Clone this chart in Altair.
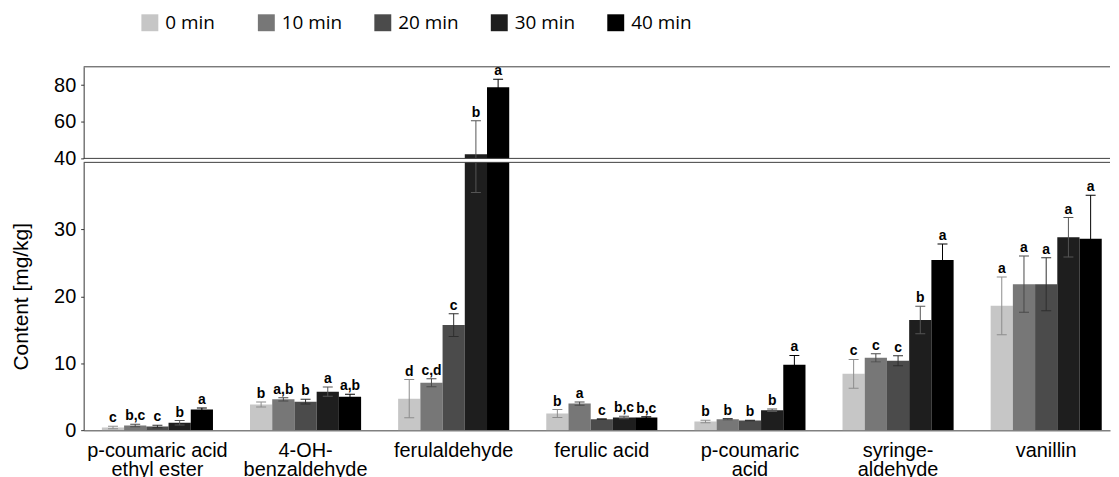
import altair as alt
import pandas as pd

compounds = ["p-coumaric acid\nethyl ester", "4-OH-\nbenzaldehyde", "ferulaldehyde",
             "ferulic acid", "p-coumaric\nacid", "syringe-\naldehyde", "vanillin"]
times = ["0 min", "10 min", "20 min", "30 min", "40 min"]

# mean content [mg/kg] per compound, in order of times
mean_pcae = [0.4, 0.7, 0.55, 1.1, 3.07]
mean_ohb = [3.82, 4.6, 4.26, 5.75, 5.0]
mean_fald = [4.7, 7.09, 15.7, 42.2, 78.8]
mean_fac = [2.48, 3.97, 1.64, 1.89, 1.89]
mean_pca = [1.29, 1.64, 1.44, 2.97, 9.76]
mean_syr = [8.42, 10.8, 10.36, 16.45, 25.4]
mean_van = [18.57, 21.8, 21.8, 28.8, 28.6]

# error bar extent above / below the mean
err_up_pcae = [0.2, 0.2, 0.2, 0.34, 0.25]
err_up_ohb = [0.37, 0.25, 0.35, 0.7, 0.37]
err_up_fald = [2.85, 0.6, 1.7, 18.3, 4.4]
err_up_fac = [0.6, 0.25, 0.05, 0.2, 0.1]
err_up_pca = [0.2, 0.1, 0.05, 0.2, 1.4]
err_up_syr = [2.15, 0.6, 0.75, 2.05, 2.4]
err_up_van = [4.3, 4.2, 3.95, 2.95, 6.5]

err_dn_pcae = [0.2, 0.2, 0.2, 0.34, 0.25]
err_dn_ohb = [0.37, 0.25, 0.35, 0.7, 0.37]
err_dn_fald = [2.85, 0.6, 1.7, 6.7, 4.4]
err_dn_fac = [0.6, 0.25, 0.05, 0.2, 0.1]
err_dn_pca = [0.2, 0.1, 0.05, 0.2, 1.4]
err_dn_syr = [2.15, 0.6, 0.75, 2.05, 2.4]
err_dn_van = [4.3, 4.2, 3.95, 2.95, 6.5]

let_pcae = ["c", "b,c", "c", "b", "a"]
let_ohb = ["b", "a,b", "b", "a", "a,b"]
let_fald = ["d", "c,d", "c", "b", "a"]
let_fac = ["b", "a", "c", "b,c", "b,c"]
let_pca = ["b", "b", "b", "b", "a"]
let_syr = ["c", "c", "c", "b", "a"]
let_van = ["a", "a", "a", "a", "a"]

means = [mean_pcae, mean_ohb, mean_fald, mean_fac, mean_pca, mean_syr, mean_van]
ups = [err_up_pcae, err_up_ohb, err_up_fald, err_up_fac, err_up_pca, err_up_syr, err_up_van]
dns = [err_dn_pcae, err_dn_ohb, err_dn_fald, err_dn_fac, err_dn_pca, err_dn_syr, err_dn_van]
lets = [let_pcae, let_ohb, let_fald, let_fac, let_pca, let_syr, let_van]

bar_colors = ["#c6c6c6", "#777777", "#4b4b4b", "#1e1e1e", "#000000"]
err_colors = ["#8c8c8c", "#4a4a4a", "#2e2e2e", "#555555", "#000000"]

rows = []
for ci, c in enumerate(compounds):
    for ti, t in enumerate(times):
        m = means[ci][ti]
        rows.append({"compound": c, "time": t, "mean": m,
                     "lo": m - dns[ci][ti], "hi": m + ups[ci][ti],
                     "letter": lets[ci][ti], "ecolor": err_colors[ti]})
df = pd.DataFrame(rows)

FONT = "Liberation Sans"
W = 1031

xscale = alt.Scale(paddingInner=0.25, paddingOuter=0.0894, align=0.688)
xoff = alt.XOffset("time:N", sort=times, scale=alt.Scale(paddingInner=0, paddingOuter=0))


def panel(ymin, ymax, h, ticks, bottom):
    ysc = alt.Scale(domain=[ymin, ymax], nice=False, zero=False)
    yaxis = alt.Axis(values=ticks, grid=False, tickSize=3, labelPadding=5,
                     labelFontSize=20, labelFont=FONT, labelColor="black",
                     domainColor="#333333", tickColor="#333333",
                     title="Content [mg/kg]" if bottom else "",
                     titleFont=FONT, titleFontSize=21, titleFontWeight="normal",
                     titleColor="black", titlePadding=22)
    if bottom:
        xaxis = alt.Axis(title=None, labelAngle=0, ticks=False, labelPadding=10,
                         labelFontSize=20, labelFont=FONT, labelColor="black",
                         labelLineHeight=20, labelExpr="split(datum.label, '\\n')",
                         domainColor="#808080", domainWidth=1.5, labelLimit=200)
    else:
        xaxis = None
    x = alt.X("compound:N", sort=compounds, scale=xscale, axis=xaxis)

    bars = alt.Chart(df).mark_bar(clip=True).encode(
        x=x, xOffset=xoff,
        y=alt.Y("mean:Q", scale=ysc, axis=yaxis),
        y2=alt.datum(0),
        color=alt.Color("time:N", sort=times,
                        scale=alt.Scale(domain=times, range=bar_colors),
                        legend=alt.Legend(title=None, orient="none", direction="horizontal",
                                          legendX=57, legendY=-54, columns=5,
                                          gridAlign="all", columnPadding=31,
                                          symbolType="square", symbolSize=289,
                                          symbolStrokeWidth=0, symbolOpacity=1,
                                          labelOffset=6,
                                          labelFont="Open Sans", labelFontSize=19,
                                          labelColor="black")),
    )
    rule = alt.Chart(df).mark_rule(clip=True, strokeWidth=1, opacity=1).encode(
        x=x, xOffset=xoff,
        y=alt.Y("lo:Q", scale=ysc, axis=yaxis), y2="hi:Q",
        color=alt.Color("ecolor:N", scale=None),
    )
    cap_hi = alt.Chart(df).mark_tick(clip=True, orient="horizontal", size=10, thickness=1,
                                     opacity=1).encode(
        x=x, xOffset=xoff, y=alt.Y("hi:Q", scale=ysc, axis=yaxis),
        color=alt.Color("ecolor:N", scale=None),
    )
    cap_lo = alt.Chart(df).mark_tick(clip=True, orient="horizontal", size=10, thickness=1,
                                     opacity=1).encode(
        x=x, xOffset=xoff, y=alt.Y("lo:Q", scale=ysc, axis=yaxis),
        color=alt.Color("ecolor:N", scale=None),
    )
    txt = alt.Chart(df).transform_filter(
        f"datum.hi >= {ymin} && datum.hi <= {ymax}"
    ).mark_text(clip=True, baseline="bottom", dy=-1, fontWeight="bold",
                fontSize=14, font=FONT, color="black").encode(
        x=x, xOffset=xoff, y=alt.Y("hi:Q", scale=ysc, axis=yaxis), text="letter:N",
    )
    edges = [ymax, ymin] if not bottom else [ymax]
    frame = alt.Chart(pd.DataFrame({"edge": edges})).mark_rule(
        color="#404040", strokeWidth=1).encode(y=alt.Y("edge:Q", scale=ysc, axis=yaxis))
    return alt.layer(bars, rule, cap_lo, cap_hi, txt, frame).properties(width=W, height=h)


top = panel(40, 90, 92, [40, 60, 80], False)
bottom = panel(0, 40, 269, [0, 10, 20, 30], True)

chart = alt.vconcat(top, bottom, spacing=4, bounds="flush").properties(
    padding={"left": 2, "top": 4, "right": 0, "bottom": 0}
).configure_view(stroke="transparent")

chart.save("out.html", embed_options={"renderer": "svg", "actions": False})
